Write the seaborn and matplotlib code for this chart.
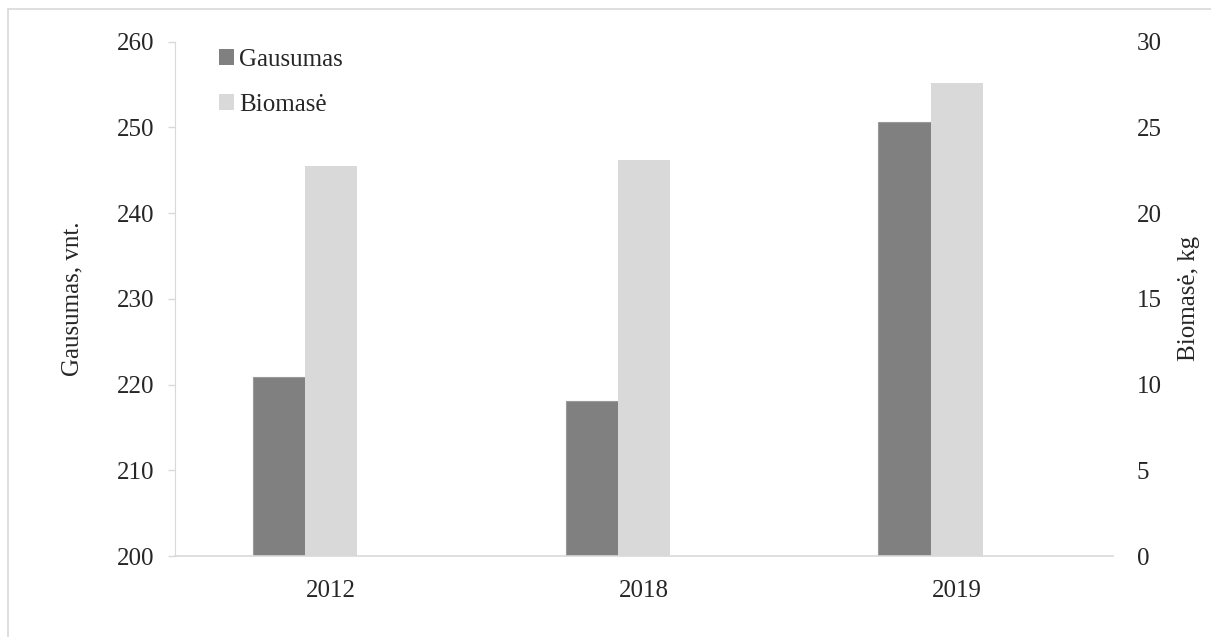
import pandas as pd
import matplotlib.pyplot as plt
import seaborn as sns
from matplotlib.patches import Patch
from matplotlib.lines import Line2D

# Data
years = ['2012', '2018', '2019']
gausumas = [220.9, 218.1, 250.6]   # vnt. (left axis)
biomase = [22.75, 23.1, 27.6]      # kg (right axis)
series = ['Gausumas', 'Biomasė']
# third, empty slot keeps the pair shifted left like in the original chart
slots = series + ['_tuščias']
colors = {'Gausumas': '#808080', 'Biomasė': '#D9D9D9', '_tuščias': 'white'}

df_g = pd.DataFrame({'Metai': years, 'value': gausumas, 'series': 'Gausumas'})
df_b = pd.DataFrame({'Metai': years, 'value': biomase, 'series': 'Biomasė'})

sns.set_style('white')
plt.rcParams['font.family'] = ['Liberation Serif', 'DejaVu Serif']
fs = 18

fig = plt.figure(figsize=(12.11, 6.37), dpi=100)
ax = fig.add_axes([0.1445, 0.127, 0.7745, 0.8075])
ax2 = ax.twinx()

sns.barplot(data=df_g, x='Metai', y='value', hue='series', hue_order=slots,
            palette=colors, width=0.5, dodge=True, ax=ax, legend=False,
            edgecolor='#9a9a9a', linewidth=0.8)
sns.barplot(data=df_b, x='Metai', y='value', hue='series', hue_order=slots,
            palette=colors, width=0.5, dodge=True, ax=ax2, legend=False,
            linewidth=0)

ax.set_xlim(-0.5, 2.5)
ax.set_ylim(200, 260)
ax.set_yticks(range(200, 261, 10))
ax2.set_ylim(0, 30)
ax2.set_yticks(range(0, 31, 5))

for a in (ax, ax2):
    for s in a.spines.values():
        s.set_visible(False)
ax.spines['left'].set_visible(True)
ax.spines['left'].set_color('#d9d9d9')
ax.spines['bottom'].set_visible(True)
ax.spines['bottom'].set_color('#d9d9d9')
ax.spines['bottom'].set_linewidth(1.2)

ax.tick_params(axis='y', which='major', left=True, length=5, width=1,
               color='#d9d9d9', pad=10, labelsize=fs)
ax.tick_params(axis='x', length=0, pad=17, labelsize=fs)
ax2.tick_params(axis='y', right=True, length=0, pad=17, labelsize=fs)

ax.set_xlabel('')
ax.set_ylabel('Gausumas, vnt.', fontsize=fs, labelpad=24)
ax2.set_ylabel('Biomasė, kg', fontsize=fs, labelpad=12, rotation=90)

handles = [Patch(facecolor=colors[s], edgecolor='none') for s in series]
ax.legend(handles, series, loc='upper left', bbox_to_anchor=(0.034, 1.01),
          frameon=False, fontsize=fs, borderpad=0, labelspacing=0.9,
          handlelength=0.6, handleheight=0.6, handletextpad=0.2)

# light border of the chart area (top and left edges)
fig.add_artist(Line2D([8 / 1211, 1], [1 - 9 / 637, 1 - 9 / 637],
                      transform=fig.transFigure, color='#d9d9d9', lw=1.2))
fig.add_artist(Line2D([8 / 1211, 8 / 1211], [0, 1 - 9 / 637],
                      transform=fig.transFigure, color='#d9d9d9', lw=1.2))

fig.savefig('out.png', dpi=100)
